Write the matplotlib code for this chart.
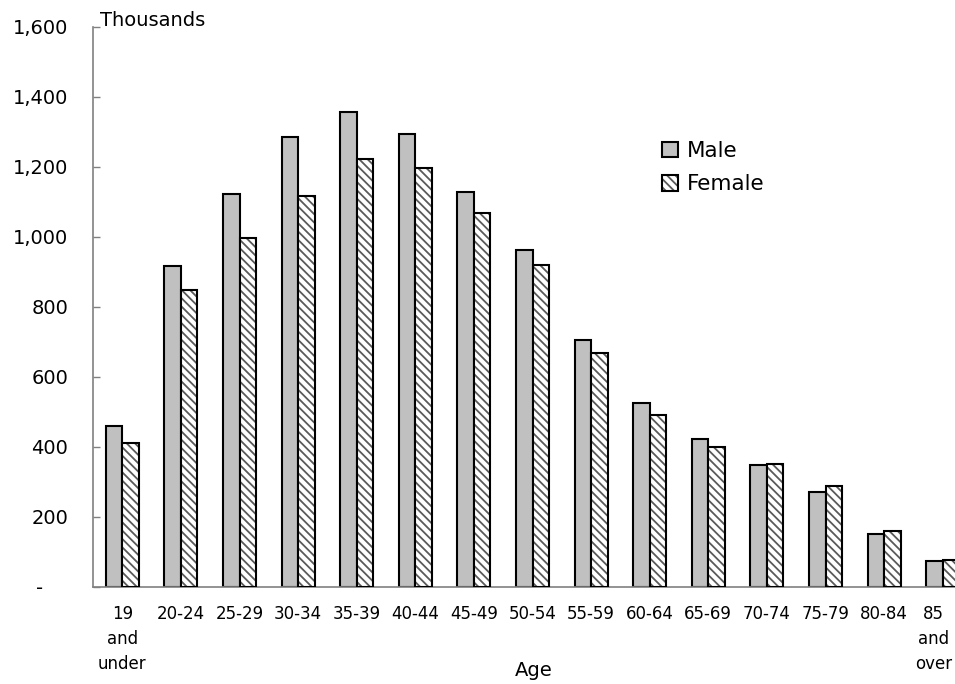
import matplotlib
matplotlib.use("Agg")
import matplotlib.pyplot as plt
from matplotlib.patches import Patch
from matplotlib.legend_handler import HandlerTuple
from matplotlib.ticker import FixedLocator
from matplotlib.transforms import ScaledTranslation

plt.rcParams.update({
    "font.family": "DejaVu Sans",
    "hatch.linewidth": 1.3,
})

# population by age group, thousands
AGE_GROUPS = ["19\nand\nunder", "20-24", "25-29", "30-34", "35-39", "40-44",
              "45-49", "50-54", "55-59", "60-64", "65-69", "70-74", "75-79",
              "80-84", "85\nand\nover"]
MALE = [461, 918, 1124, 1286, 1356, 1293, 1128, 964, 705, 527, 424, 349,
        271, 152, 75]
FEMALE = [412, 848, 996, 1117, 1222, 1196, 1069, 921, 668, 492, 400, 351,
          288, 160, 76]
Y_TICKS = [0, 200, 400, 600, 800, 1000, 1200, 1400, 1600]
Y_LABELS = ["-    ", "200", "400", "600", "800", "1,000", "1,200", "1,400",
            "1,600"]

HATCH = "\\\\\\\\"

W, H = 955, 684
fig = plt.figure(figsize=(W / 100, H / 100), dpi=100)
# plot area runs a little past the right edge of the figure
ax = fig.add_axes([93 / W, 97 / H, 879 / W, 560 / H])

x = list(range(len(AGE_GROUPS)))
bw = 0.28
xm = [i - bw / 2 for i in x]
xf = [i + bw / 2 for i in x]

ax.bar(xm, MALE, width=bw, color="#C0C0C0", edgecolor="black",
       linewidth=1.5, zorder=2)
# hatch takes the edge colour, so draw the stripes and the outline separately
ax.bar(xf, FEMALE, width=bw, color="white", edgecolor="#5a5a5a",
       hatch=HATCH, linewidth=0, zorder=2)
ax.bar(xf, FEMALE, width=bw, fill=False, edgecolor="black",
       linewidth=1.5, zorder=3)

ax.set_xlim(-0.5, len(AGE_GROUPS) - 0.5)
ax.set_ylim(0, 1600)

ax.yaxis.set_major_locator(FixedLocator(Y_TICKS))
ax.set_yticklabels(Y_LABELS)
ax.tick_params(axis="y", direction="in", length=5, width=1, color="#808080",
               pad=18, labelsize=14)
ax.set_xticks(x)
ax.set_xticklabels(AGE_GROUPS, linespacing=1.5)
ax.tick_params(axis="x", length=0, pad=13, labelsize=12)

# nudge the last label left so it stays inside the figure
last = ax.get_xticklabels()[-1]
last.set_transform(last.get_transform()
                   + ScaledTranslation(-9 / 100, 0, fig.dpi_scale_trans))

for s in ("top", "right"):
    ax.spines[s].set_visible(False)
for s in ("left", "bottom"):
    ax.spines[s].set_color("#808080")
    ax.spines[s].set_linewidth(1.2)

fig.text(100 / W, 1 - 26 / H, "Thousands", fontsize=14, va="baseline")
fig.text(534 / W, 1 - 671 / H, "Age", fontsize=14, ha="center", va="center")

male_h = Patch(facecolor="#C0C0C0", edgecolor="black", linewidth=1.5)
fem_h = (Patch(facecolor="white", edgecolor="#5a5a5a", hatch=HATCH,
               linewidth=0),
         Patch(fill=False, edgecolor="black", linewidth=1.5))
fig.legend([male_h, fem_h], ["Male", "Female"],
           handler_map={tuple: HandlerTuple(ndivide=1, pad=0)},
           loc="upper left", bbox_to_anchor=(662 / W, 1 - 141 / H),
           bbox_transform=fig.transFigure, frameon=False, fontsize=15.5,
           borderpad=0, borderaxespad=0, handlelength=0.75,
           handleheight=0.75, handletextpad=0.4, labelspacing=0.62)

fig.savefig("out.png", dpi=100)
